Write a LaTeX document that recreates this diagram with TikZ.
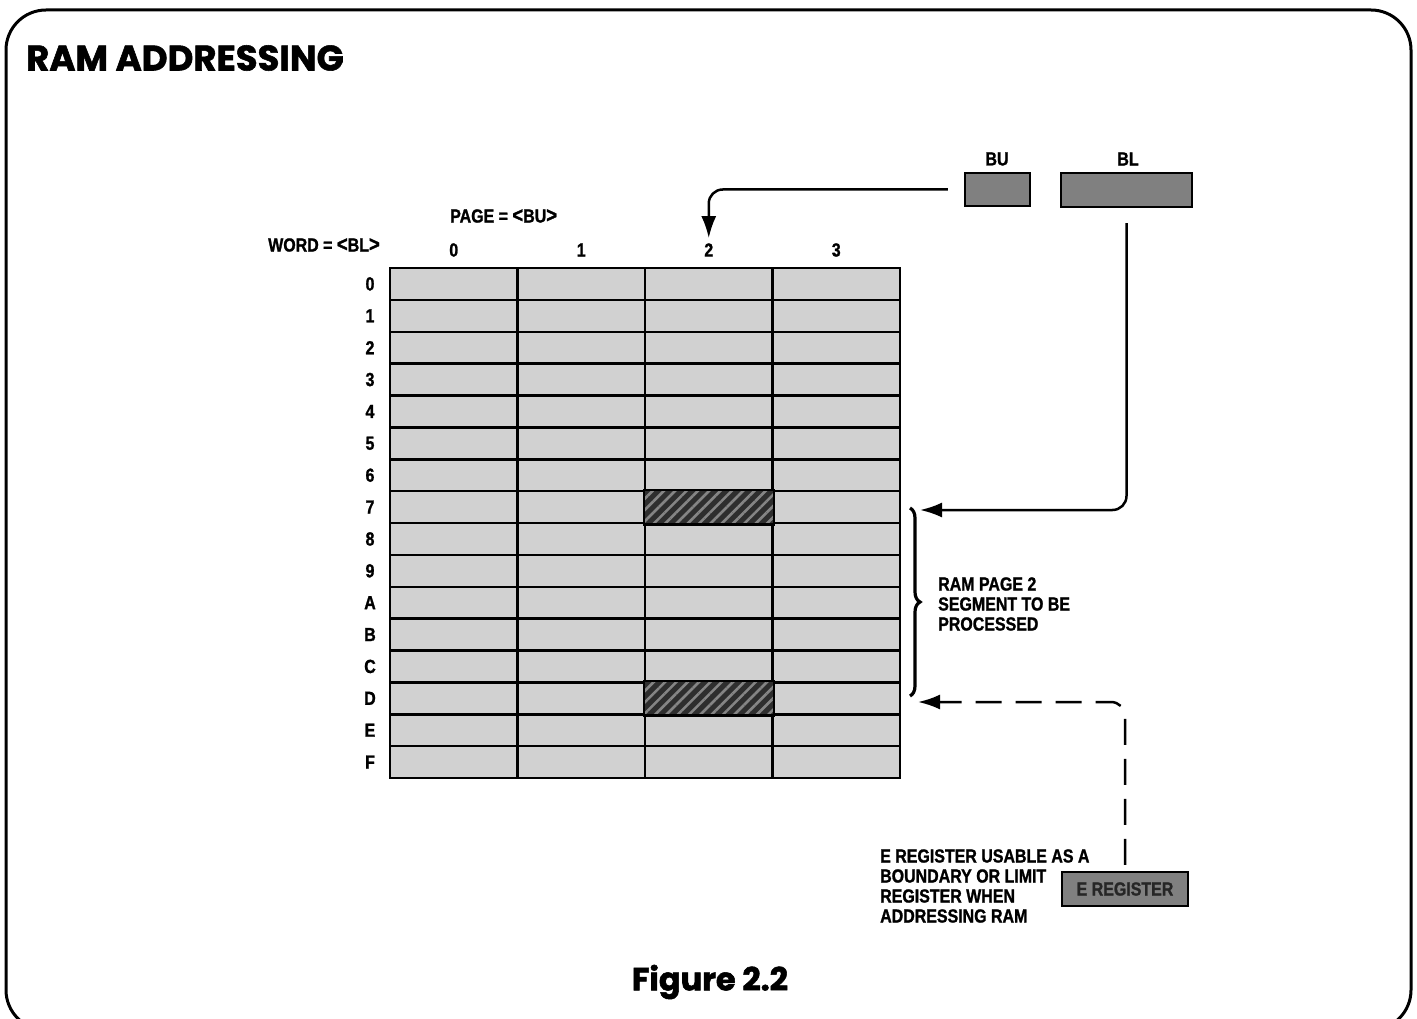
\documentclass[tikz,border=0pt]{standalone}
\usepackage{fontspec}
\newfontfamily\cond{Liberation Sans}[FakeStretch=0.84, BoldFeatures={FakeBold=1.2, FakeStretch=0.84}]
\newfontfamily\titlef{Poppins}[BoldFeatures={FakeBold=1.6}]
\usetikzlibrary{patterns.meta,decorations.pathreplacing,arrows.meta}
\newcommand{\myltsign}{{\fontsize{22}{20}\selectfont<}}
\newcommand{\mygtsign}{{\fontsize{22}{20}\selectfont>}}
\begin{document}
\begin{tikzpicture}[x=1pt,y=-1pt,
  lab/.style={font=\cond\bfseries\fontsize{19}{20}\selectfont, inner sep=0pt},
  note/.style={font=\cond\bfseries\fontsize{19}{20}\selectfont, inner sep=0pt, align=left, anchor=west},
  cell/.style={draw, line width=2.5pt, fill=black!18, minimum width=127.5pt, minimum height=31.875pt, inner sep=0pt},
  reg/.style={draw, line width=2.5pt, fill=black!50, inner sep=0pt},
  arr/.style={line width=2.5pt, -{Latex[length=22pt,width=15pt]}},
  ]
\useasboundingbox (0,0) rectangle (1417,1019);
\clip (0,0) rectangle (1417,1019);
% frame
\draw[line width=3pt, rounded corners=40pt] (6,10) rectangle (1411,1030);
% title
\node[anchor=west, font=\titlef\bfseries\fontsize{35.5}{38}\selectfont, inner sep=0pt] (title) at (26,58) {RAM ADDRESSING};
\node[font=\titlef\bfseries\fontsize{32}{36}\selectfont, inner sep=0pt] (fig) at (710,982) {Figure 2.2};
% grid
\foreach \c in {0,...,3}{
  \foreach \r in {0,...,15}{
    \node[cell] (cell-\c-\r) at ({390+127.5*\c+63.75},{268+31.875*\r+15.94}) {};
  }
}
% hatched cells
\foreach \r in {7,13}{
  \fill[black!82] (cell-2-\r.south west) rectangle (cell-2-\r.north east);
  \fill[pattern={Lines[angle=45,distance=8pt,line width=2.6pt]}, pattern color=black!48]
    (cell-2-\r.south west) rectangle (cell-2-\r.north east);
  \draw[line width=2.5pt] (cell-2-\r.south west) rectangle (cell-2-\r.north east);
}
% row labels
\foreach \r/\t in {0/0,1/1,2/2,3/3,4/4,5/5,6/6,7/7,8/8,9/9,10/A,11/B,12/C,13/D,14/E,15/F}{
  \node[lab] (row-\r) at (370,{268+31.875*\r+15.94}) {\t};
}
% column labels
\foreach \c in {0,...,3}{
  \node[lab] (col-\c) at ({390+127.5*\c+63.75},250) {\c};
}
\node[lab, anchor=east] (word) at (380,245) {WORD = \myltsign BL\mygtsign};
\node[lab, anchor=west] (page) at (450,216) {PAGE = \myltsign BU\mygtsign};
% registers
\node[reg, minimum width=65pt, minimum height=33pt] (bu) at (997.5,189.5) {};
\node[reg, minimum width=131pt, minimum height=34pt] (bl) at (1126.5,190) {};
\node[lab] (bulab) at (997,159) {BU};
\node[lab] (bllab) at (1128,159) {BL};
\node[reg, minimum width=126pt, minimum height=34pt, text=black!85, font=\cond\bfseries\fontsize{19}{20}\selectfont] (ereg) at (1125,889) {E REGISTER};
% brace
\draw[line width=3.2pt, decorate, decoration={brace, amplitude=10pt}] (910,508) -- (910,696) coordinate[midway] (bracemid);
\coordinate (tip7) at (920,510);
\coordinate (tipD) at (918,702);
% arrows
\draw[arr, rounded corners=14pt, shorten <=16pt] (bu.west) -| ([yshift=5pt]col-2.north);
\draw[arr, rounded corners=14pt, shorten <=15pt] (bl.south) |- (tip7);
\draw[arr, dashed, dash pattern=on 26pt off 14pt, rounded corners=14pt, shorten <=6pt] (ereg.north) |- (tipD);
% notes
\node[note] (ramnote) at (938,604) {RAM PAGE 2\\SEGMENT TO BE\\PROCESSED};
\node[note] (enote) at (880,886) {E REGISTER USABLE AS A\\BOUNDARY OR LIMIT\\REGISTER WHEN\\ADDRESSING RAM};
\end{tikzpicture}
\end{document}
